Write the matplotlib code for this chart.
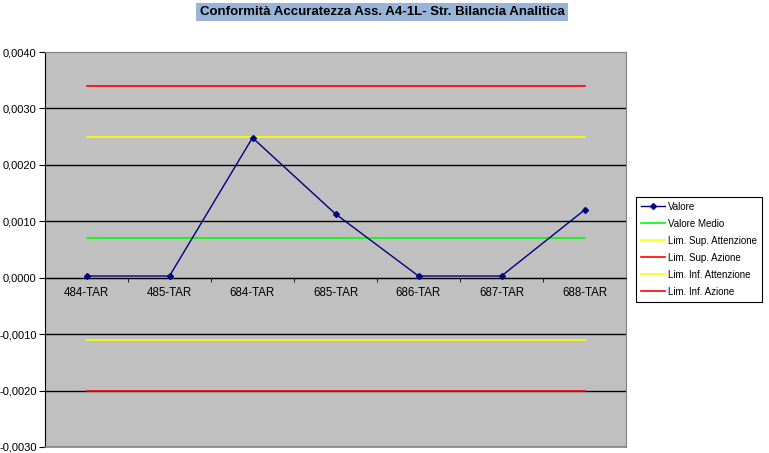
import matplotlib
matplotlib.use("Agg")
import matplotlib.pyplot as plt
from matplotlib.lines import Line2D
import numpy as np

categories = ["484-TAR", "485-TAR", "684-TAR", "685-TAR", "686-TAR", "687-TAR", "688-TAR"]
valore = [0.00003, 0.00003, 0.00248, 0.00113, 0.00003, 0.00003, 0.00120]
valore_medio = 0.0007
lim_sup_attenzione = 0.0025
lim_sup_azione = 0.0034
lim_inf_attenzione = -0.0011
lim_inf_azione = -0.0020
title = "Conformità Accuratezza Ass. A4-1L- Str. Bilancia Analitica"

W, H = 769, 453
fig = plt.figure(figsize=(W / 100, H / 100), dpi=100)
L, R, T, B = 45, 626, 52, 447
ax = fig.add_axes([L / W, 1 - B / H, (R - L) / W, (B - T) / H])
ax.set_facecolor("#C0C0C0")
ax.spines["bottom"].set_position(("data", 0))

x = np.arange(len(categories))
n = len(categories)

ax.plot(x, [valore_medio] * n, color="#00FF00", lw=1.2, label="Valore Medio", zorder=3)
ax.plot(x, [lim_sup_attenzione] * n, color="#FFFF00", lw=1.2, label="Lim. Sup. Attenzione", zorder=3)
ax.plot(x, [lim_sup_azione] * n, color="#FF0000", lw=1.2, label="Lim. Sup. Azione", zorder=3)
ax.plot(x, [lim_inf_attenzione] * n, color="#FFFF00", lw=1.2, label="Lim. Inf. Attenzione", zorder=3)
ax.plot(x, [lim_inf_azione] * n, color="#FF0000", lw=1.2, label="Lim. Inf. Azione", zorder=3)
ax.plot(x, valore, color="#000080", lw=1.0, marker="D", ms=3, label="Valore", zorder=4)

ax.set_xlim(-0.5, n - 0.5)
ax.set_ylim(-0.003, 0.004)
yt = np.arange(-0.003, 0.00401, 0.001)
ax.set_yticks(yt)
ax.set_yticklabels([("%.4f" % v).replace(".", ",").replace("-0,0000", "0,0000") for v in yt],
                   fontsize=8, fontfamily="Liberation Sans")
for v in yt[1:-1]:
    ax.axhline(v, color="black", lw=1.0, zorder=1)

ax.set_xticks(x)
ax.set_xticklabels(categories, fontsize=8.3, fontfamily="Liberation Sans")
ax.set_xticks(np.arange(-0.5, n, 1.0), minor=True)
ax.tick_params(axis="x", which="major", length=0, pad=7)
ax.tick_params(axis="x", which="minor", length=3, direction="out", color="black")
ax.tick_params(axis="y", length=4, direction="out", color="black", pad=2)

ax.spines["bottom"].set_color("black")
ax.spines["left"].set_color("black")
ax.spines["top"].set_color("#808080")
ax.spines["right"].set_color("#808080")
ax.add_line(Line2D([0, 1], [0, 0], transform=ax.transAxes, color="#808080", lw=1.2, clip_on=False, zorder=5))

handles, labels = ax.get_legend_handles_labels()
order = ["Valore", "Valore Medio", "Lim. Sup. Attenzione", "Lim. Sup. Azione", "Lim. Inf. Attenzione", "Lim. Inf. Azione"]
hmap = dict(zip(labels, handles))
leg = fig.legend([hmap[k] for k in order], order, loc="upper left",
                 bbox_to_anchor=(636 / W, 1 - 197 / H), borderaxespad=0,
                 prop={"family": "Liberation Sans", "size": 7},
                 frameon=True, fancybox=False, edgecolor="black", framealpha=1,
                 borderpad=0.5, labelspacing=0.72, handlelength=2.5, handletextpad=0.3)
leg.get_frame().set_linewidth(0.8)

fig.text(382 / W, 1 - 12 / H, title, ha="center", va="center", fontsize=9.5, fontweight="bold",
         family=["Liberation Sans Narrow", "Liberation Sans"],
         bbox=dict(boxstyle="square,pad=0.25", facecolor="#99B4D9", edgecolor="none"))

fig.savefig("out.png", dpi=100)
